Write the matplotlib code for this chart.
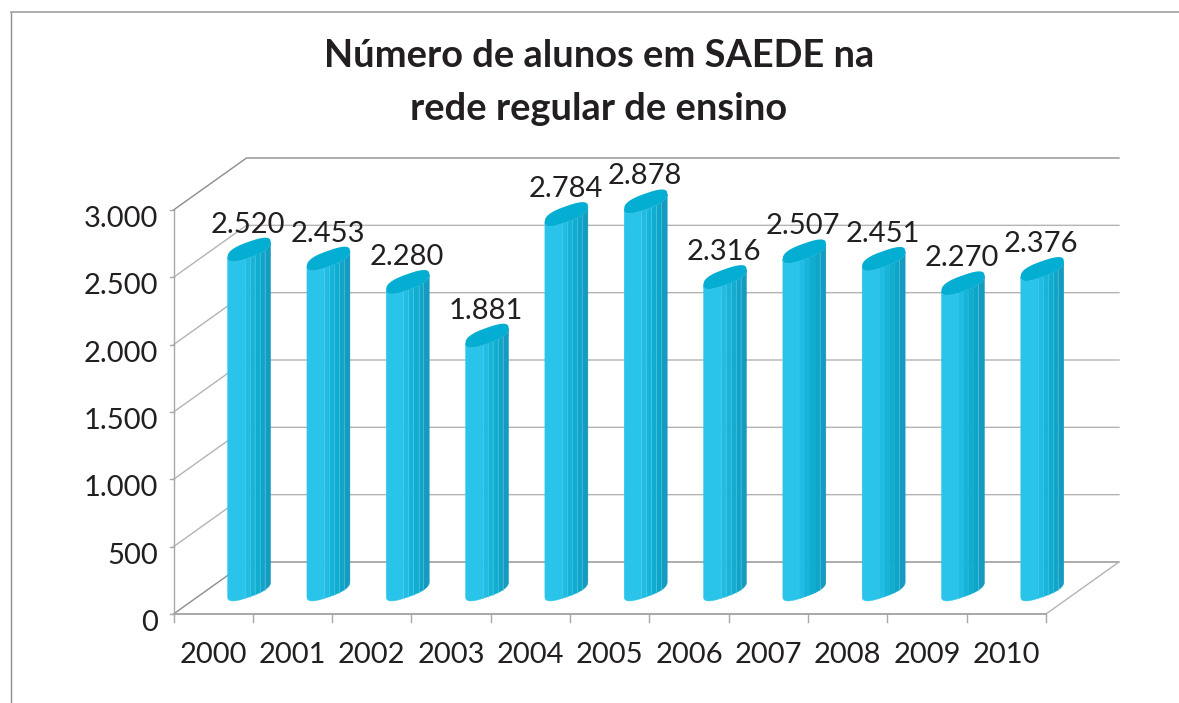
import numpy as np
import matplotlib
matplotlib.use('Agg')
import matplotlib.pyplot as plt

years = ['2000', '2001', '2002', '2003', '2004', '2005', '2006', '2007', '2008', '2009', '2010']
values = [2520, 2453, 2280, 1881, 2784, 2878, 2316, 2507, 2451, 2270, 2376]
value_labels = ['2.520', '2.453', '2.280', '1.881', '2.784', '2.878', '2.316', '2.507', '2.451', '2.270', '2.376']
y_ticks = [0, 500, 1000, 1500, 2000, 2500, 3000]
y_tick_labels = ['0', '500', '1.000', '1.500', '2.000', '2.500', '3.000']

W, H = 1179, 703
# one category / one value unit in pixels
PX_X = 872.5 / 11
PX_Y = 404 / 3000
DEPTH_X = 73 / PX_X
DEPTH_Y = 52 / PX_Y

GRID = '#b4b4b4'
AXIS = '#a8a8a8'
TEXT = '#231f20'
FACETS = ['#2ac4eb', '#20bce3', '#17b4da', '#10add1', '#0ea5c9', '#149bbf']
FACET_U = [-1, -0.2, 0.03, 0.26, 0.5, 0.72, 1]
# the columns of these years have no visible ribs
SMOOTH = {'2007', '2008', '2009'}
POWER = 0.75

plt.rcParams['font.family'] = ['Lato', 'DejaVu Sans']

fig = plt.figure(figsize=(W / 100, H / 100), dpi=100)
ax = fig.add_axes([173.5 / W, (H - 614) / H, 872.5 / W, 404 / H])
ax.set_xlim(0, len(years))
ax.set_ylim(0, 3000)
ax.axis('off')


def spow(a):
    return np.sign(a) * np.abs(a) ** POWER


def footprint(cx, base, t):
    # slanted, squarish ellipse of the column section
    c, s = spow(np.cos(t)), spow(np.sin(t))
    x = cx + 21.5 * c / PX_X
    y = base + (7.5 * c + 8 * s) / PX_Y
    return x, y


def u_to_t(u):
    return 2 * np.pi - np.arccos(np.sign(u) * abs(u) ** (1 / POWER))


def draw_column(i, value):
    cx = i + 0.5 + 0.46 * DEPTH_X + 0.03
    base = 25 / PX_Y
    smooth = years[i] in SMOOTH
    for k, color in enumerate(FACETS):
        t = np.linspace(u_to_t(FACET_U[k]), u_to_t(FACET_U[k + 1]), 30)
        x, y = footprint(cx, base, t)
        xs = np.r_[x, x[::-1]]
        ys = np.r_[y, y[::-1] + value]
        ax.fill(xs, ys, color=color, lw=0.3, zorder=4, clip_on=False)
        if k > 0 and (not smooth or k == len(FACETS) - 1):
            ax.plot([x[0], x[0]], [y[0], y[0] + value], color='#5fd2ee', lw=0.6,
                    alpha=0.6, zorder=5, clip_on=False)
    t = np.linspace(0, 2 * np.pi, 120)
    x, y = footprint(cx, base + value, t)
    ax.fill(x, y, color='#04aed2', lw=0, zorder=6, clip_on=False)


# walls and floor
for v, label in zip(y_ticks, y_tick_labels):
    ax.plot([0, DEPTH_X, len(years) + DEPTH_X], [v, v + DEPTH_Y, v + DEPTH_Y],
            color='#8c8c8c' if v in (0, 3000) else GRID, lw=1.0, zorder=1, clip_on=False)
    ax.plot([-4 / PX_X, 0], [v, v], color=AXIS, lw=1.0, zorder=2, clip_on=False)
    ax.text(-15.5 / PX_X, v - 9 / PX_Y, label, ha='right', va='center',
            fontsize=21, color=TEXT, clip_on=False)
ax.plot([len(years), len(years) + DEPTH_X], [0, DEPTH_Y], color=GRID, lw=1.0, zorder=1, clip_on=False)
ax.plot([0, 0], [0, 3000], color=AXIS, lw=1.0, zorder=2, clip_on=False)
ax.plot([0, len(years)], [0, 0], color=AXIS, lw=1.4, zorder=2, clip_on=False)
for i in range(len(years) + 1):
    ax.plot([i, i], [0, -8 / PX_Y], color=AXIS, lw=1.0, zorder=2, clip_on=False)

for i, value in enumerate(values):
    draw_column(i, value)
    ax.text(i + 0.5, -41 / PX_Y, years[i], ha='center', va='center', fontsize=21,
            color=TEXT, clip_on=False)
    ax.text(i + 0.5 + 0.44, value + 24 / PX_Y + 26 / PX_Y, value_labels[i], ha='center', va='center',
            fontsize=21, color=TEXT, zorder=7, clip_on=False)

# outer frame, only left and top are inside the picture
fig.add_artist(plt.Line2D([11 / W, 11 / W], [0, 1 - 12 / H], color='#8c8c8c', lw=1.0))
fig.add_artist(plt.Line2D([11 / W, 1], [1 - 12 / H, 1 - 12 / H], color='#a8a8a8', lw=1.3))
fig.text(599 / W, 1 - 56 / H, 'Número de alunos em SAEDE na', ha='center', va='center',
         fontsize=27.4, fontweight='bold', color=TEXT)
fig.text(599 / W, 1 - 109 / H, 'rede regular de ensino', ha='center', va='center',
         fontsize=27.4, fontweight='bold', color=TEXT)

fig.savefig('out.png', dpi=100)
